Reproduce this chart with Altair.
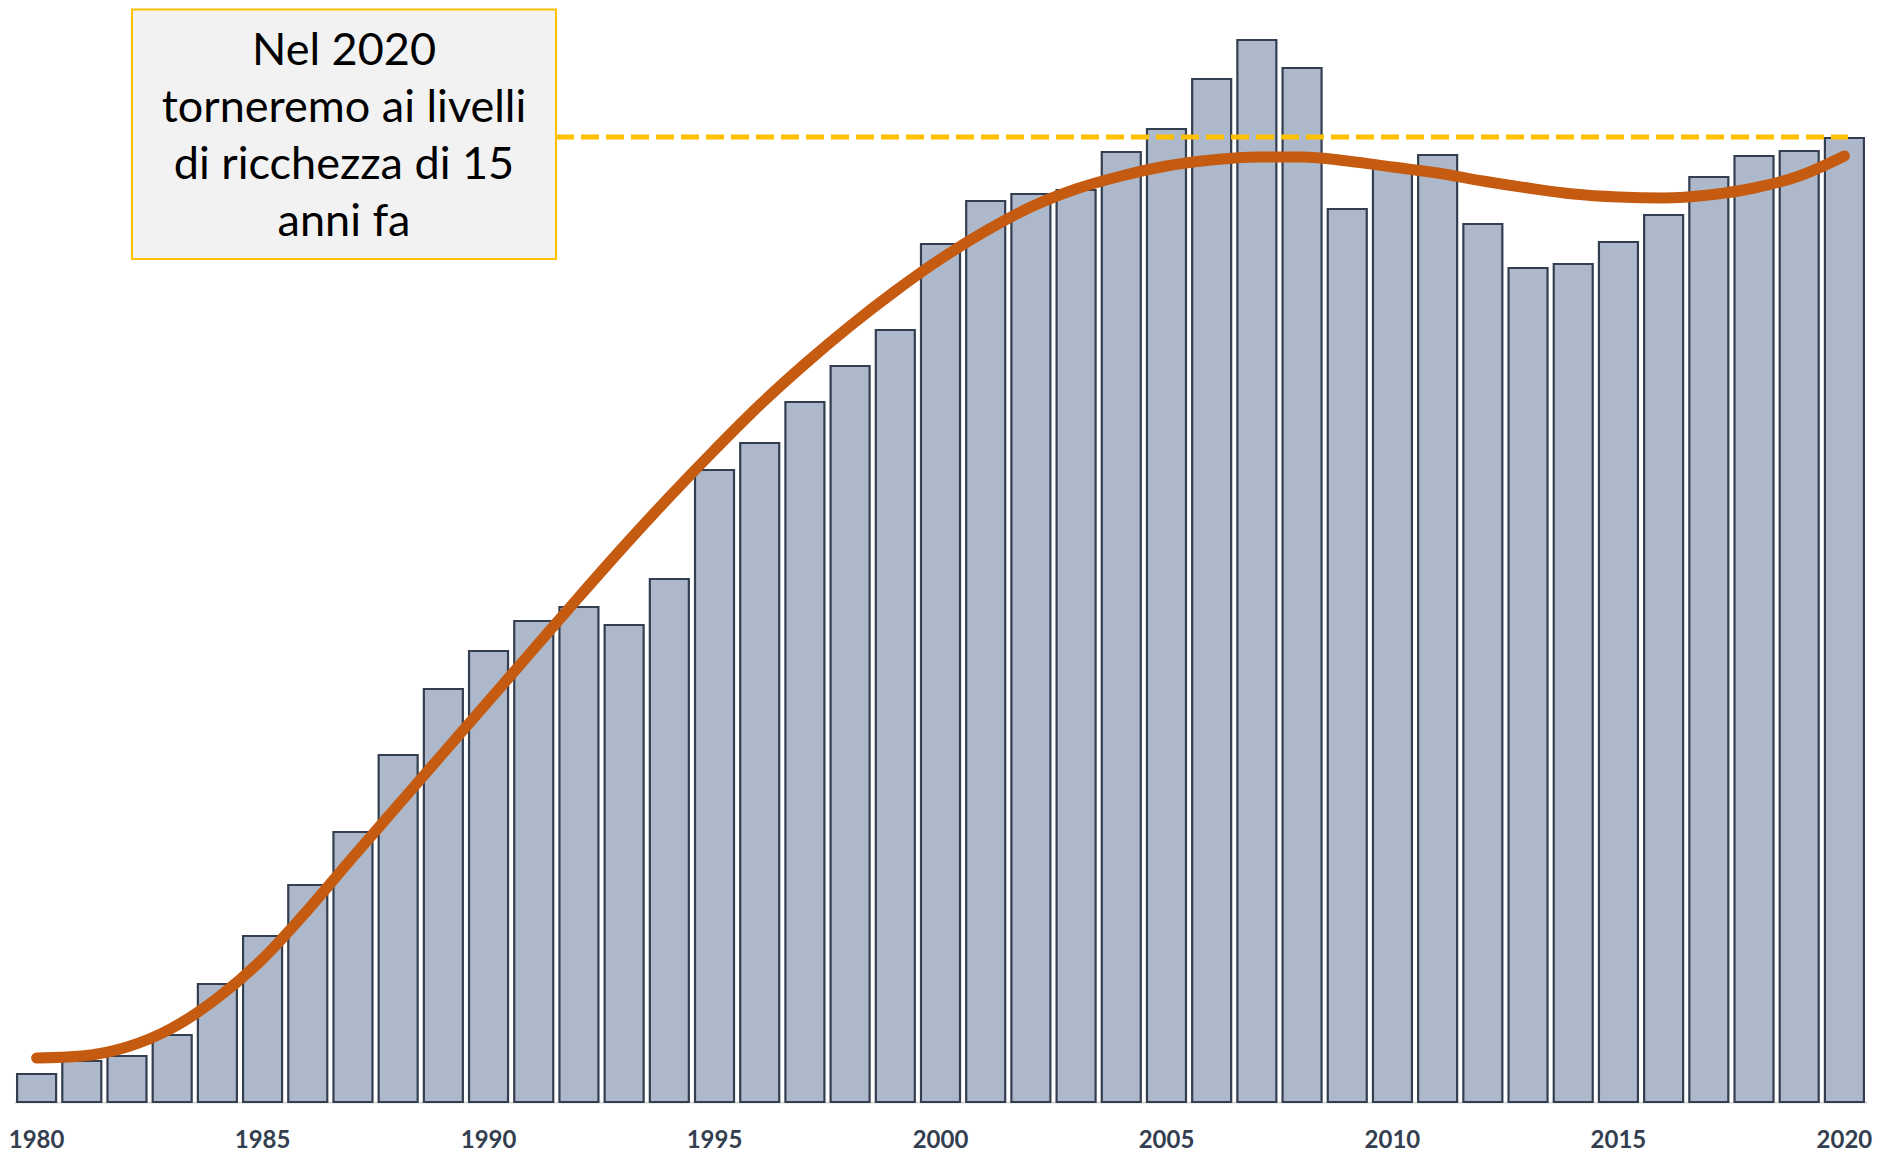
import altair as alt
import pandas as pd

# ---- data (arbitrary units) ----
anni = list(range(1980, 2021))
valori = [28, 41, 46, 67, 118, 166, 217, 270, 347, 413,
          451, 481, 495, 477, 523, 632, 659, 700, 736, 772,
          858, 901, 908, 912, 950, 973, 1023, 1062, 1034, 893,
          934, 947, 878, 834, 838, 860, 887, 925, 946, 951,
          964]
tendenza = [44, 46, 55, 74, 104, 143, 192, 245, 297, 349,
            401, 453, 505, 556, 605, 652, 697, 738, 776, 811,
            843, 871, 895, 913, 926, 936, 942, 945, 945, 941,
            935, 929, 921, 914, 908, 905, 904, 907, 914, 926,
            946]
livello_2020 = [965]
etichette_anni = [1980, 1985, 1990, 1995, 2000, 2005, 2010, 2015, 2020]
testo_box = ["Nel 2020", "torneremo ai livelli", "di ricchezza di 15", "anni fa"]

df = pd.DataFrame({"anno": anni, "valore": valori, "tendenza": tendenza})
df_liv = pd.DataFrame({"livello": livello_2020})
df_box = pd.DataFrame({"k": [0]})

W, H = 1853, 1093
y_scale = alt.Scale(domain=[0, H], nice=False, zero=True)

x_enc = alt.X(
    "anno:O",
    scale=alt.Scale(paddingInner=0.137, paddingOuter=0.0685),
    axis=alt.Axis(
        values=etichette_anni,
        title=None,
        labelAngle=0,
        ticks=False,
        grid=False,
        domainColor="#D9D9D9",
        domainWidth=2,
        labelFont="Lato",
        labelFontSize=24,
        labelFontWeight="bold",
        labelColor="#333F50",
        labelPadding=26,
    ),
)

bars = alt.Chart(df).mark_bar(
    fill="#ADB9CA", stroke="#333F50", strokeWidth=2.2
).encode(
    x=x_enc,
    y=alt.Y("valore:Q", scale=y_scale, axis=None),
)

trend = alt.Chart(df).mark_line(
    color="#C55A11", strokeWidth=11, strokeCap="round", interpolate="monotone"
).encode(
    x=alt.X("anno:O"),
    y=alt.Y("tendenza:Q", scale=y_scale, axis=None),
)

rif = alt.Chart(df_liv).mark_rule(
    color="#FFC000", strokeWidth=5, strokeDash=[18, 7]
).encode(
    y=alt.Y("livello:Q", scale=y_scale, axis=None),
    x=alt.value(542),
    x2=alt.value(1834),
)

box = alt.Chart(df_box).mark_rect(
    fill="#F2F2F2", stroke="#FFC000", strokeWidth=2
).encode(
    x=alt.value(118), x2=alt.value(542), y=alt.value(0.5), y2=alt.value(250)
)

testo = alt.Chart(df_box).mark_text(
    font="Lato", fontSize=45, lineHeight=57, align="center", baseline="middle",
    color="#000000", text=testo_box
).encode(
    x=alt.value(330), y=alt.value(42)
)

chart = alt.layer(bars, trend, rif, box, testo).properties(
    width=W, height=H,
    background="white",
    autosize=alt.AutoSizeParams(type="none"),
    padding={"left": 6, "top": 1, "right": 6, "bottom": 52},
).configure_view(strokeWidth=0, stroke=None)

chart.save("out.html", embed_options={"renderer": "svg", "actions": False})
